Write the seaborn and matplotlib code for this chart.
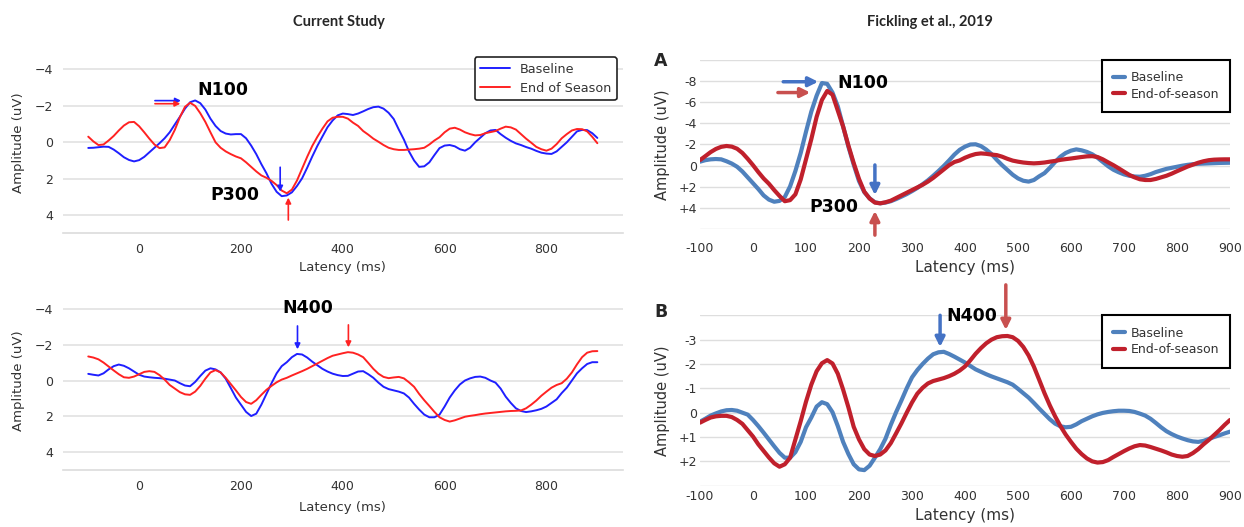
import matplotlib
matplotlib.use("Agg")
import matplotlib.pyplot as plt
import numpy as np
import pandas as pd
import seaborn as sns

# ---------------- data (every 10 ms) ----------------
latency = list(range(-100, 901, 10))

# Current Study, top (N100 / P300)
cur_a_baseline = [
    0.31, 0.30, 0.27, 0.24, 0.25, 0.40, 0.60, 0.82, 0.97, 1.05,
    0.98, 0.80, 0.55, 0.30, 0.05, -0.22, -0.55, -0.98, -1.40, -1.85,
    -2.20, -2.30, -2.15, -1.80, -1.30, -0.90, -0.62, -0.48, -0.43, -0.45,
    -0.45, -0.22, 0.18, 0.65, 1.20, 1.70, 2.28, 2.72, 2.96, 2.92,
    2.75, 2.40, 1.98, 1.40, 0.78, 0.20, -0.32, -0.83, -1.20, -1.48,
    -1.58, -1.55, -1.50, -1.58, -1.70, -1.83, -1.93, -1.96, -1.85, -1.62,
    -1.28, -0.70, -0.15, 0.50, 1.00, 1.35, 1.32, 1.10, 0.70, 0.32,
    0.18, 0.15, 0.22, 0.38, 0.46, 0.30, 0.00, -0.25, -0.50, -0.65,
    -0.68, -0.45, -0.25, -0.08, 0.06, 0.15, 0.26, 0.35, 0.47, 0.57,
    0.62, 0.64, 0.50, 0.25, 0.00, -0.30, -0.60, -0.68, -0.67, -0.50, -0.24]
cur_a_end = [
    -0.31, -0.05, 0.15, 0.12, -0.10, -0.35, -0.65, -0.92, -1.10, -1.12,
    -0.88, -0.55, -0.20, 0.12, 0.32, 0.28, -0.12, -0.68, -1.38, -1.95,
    -2.17, -2.00, -1.60, -1.12, -0.55, 0.00, 0.30, 0.50, 0.65, 0.78,
    0.88, 1.10, 1.35, 1.60, 1.82, 1.95, 2.12, 2.35, 2.65, 2.80,
    2.60, 2.10, 1.45, 0.80, 0.20, -0.30, -0.75, -1.15, -1.35, -1.40,
    -1.40, -1.30, -1.08, -0.90, -0.62, -0.42, -0.20, -0.03, 0.15, 0.30,
    0.38, 0.42, 0.42, 0.40, 0.38, 0.35, 0.30, 0.12, -0.10, -0.28,
    -0.55, -0.75, -0.80, -0.70, -0.55, -0.45, -0.38, -0.40, -0.50, -0.56,
    -0.62, -0.75, -0.86, -0.82, -0.70, -0.45, -0.20, 0.02, 0.25, 0.38,
    0.46, 0.35, 0.10, -0.22, -0.45, -0.65, -0.73, -0.72, -0.60, -0.30, 0.05]

# Current Study, bottom (N400)
cur_b_baseline = [
    -0.37, -0.32, -0.28, -0.40, -0.62, -0.80, -0.89, -0.82, -0.68, -0.50,
    -0.32, -0.22, -0.18, -0.15, -0.13, -0.10, -0.05, 0.00, 0.15, 0.28,
    0.32, 0.08, -0.25, -0.55, -0.68, -0.62, -0.45, -0.10, 0.42, 0.95,
    1.35, 1.75, 1.98, 1.85, 1.35, 0.75, 0.15, -0.40, -0.80, -1.02,
    -1.30, -1.48, -1.45, -1.28, -1.05, -0.85, -0.65, -0.50, -0.38, -0.30,
    -0.25, -0.26, -0.38, -0.50, -0.52, -0.35, -0.15, 0.12, 0.35, 0.48,
    0.55, 0.62, 0.72, 0.95, 1.30, 1.62, 1.90, 2.05, 2.05, 1.90,
    1.45, 0.95, 0.55, 0.22, 0.00, -0.12, -0.20, -0.22, -0.15, 0.00,
    0.12, 0.45, 0.90, 1.25, 1.55, 1.70, 1.76, 1.72, 1.66, 1.58,
    1.45, 1.25, 1.05, 0.70, 0.40, 0.00, -0.40, -0.68, -0.92, -1.02, -1.02]
cur_b_end = [
    -1.34, -1.28, -1.18, -1.00, -0.78, -0.56, -0.35, -0.18, -0.15, -0.22,
    -0.35, -0.48, -0.52, -0.48, -0.30, -0.05, 0.25, 0.45, 0.65, 0.77,
    0.80, 0.62, 0.30, -0.10, -0.45, -0.58, -0.45, -0.15, 0.20, 0.55,
    0.92, 1.20, 1.30, 1.10, 0.80, 0.52, 0.30, 0.10, -0.05, -0.15,
    -0.28, -0.40, -0.52, -0.65, -0.80, -0.95, -1.10, -1.25, -1.38, -1.45,
    -1.52, -1.58, -1.55, -1.45, -1.30, -0.98, -0.65, -0.38, -0.20, -0.13,
    -0.17, -0.20, -0.12, 0.10, 0.35, 0.75, 1.10, 1.42, 1.75, 2.05,
    2.20, 2.29, 2.22, 2.12, 2.02, 1.97, 1.93, 1.88, 1.84, 1.81,
    1.78, 1.75, 1.72, 1.70, 1.69, 1.67, 1.55, 1.35, 1.12, 0.85,
    0.62, 0.40, 0.25, 0.15, -0.10, -0.45, -0.90, -1.30, -1.55, -1.63, -1.64]

# Fickling et al., 2019, panel A
fick_a_baseline = [
    -0.38, -0.52, -0.60, -0.63, -0.60, -0.42, -0.20, 0.10, 0.55, 1.10,
    1.65, 2.20, 2.80, 3.20, 3.40, 3.32, 2.95, 1.95, 0.50, -1.20,
    -3.20, -5.10, -6.60, -7.80, -7.72, -6.90, -5.60, -3.70, -1.80, -0.10,
    1.45, 2.50, 3.08, 3.45, 3.55, 3.48, 3.35, 3.15, 2.92, 2.68,
    2.40, 2.10, 1.75, 1.38, 0.95, 0.50, 0.02, -0.50, -1.05, -1.50,
    -1.80, -2.00, -2.02, -1.85, -1.52, -1.10, -0.55, -0.05, 0.40, 0.85,
    1.20, 1.42, 1.50, 1.35, 1.00, 0.70, 0.20, -0.35, -0.85, -1.20,
    -1.42, -1.54, -1.45, -1.30, -1.08, -0.75, -0.35, 0.05, 0.38, 0.62,
    0.82, 0.95, 1.02, 1.04, 0.95, 0.80, 0.60, 0.45, 0.30, 0.20,
    0.10, 0.00, -0.08, -0.14, -0.18, -0.20, -0.22, -0.24, -0.26, -0.27, -0.28]
fick_a_end = [
    -0.53, -0.90, -1.28, -1.58, -1.78, -1.86, -1.80, -1.60, -1.20, -0.65,
    -0.05, 0.60, 1.20, 1.70, 2.30, 2.85, 3.35, 3.25, 2.70, 1.30,
    -0.60, -2.50, -4.60, -6.20, -7.05, -6.70, -5.20, -3.70, -1.90, -0.25,
    1.25, 2.45, 3.10, 3.48, 3.55, 3.45, 3.30, 3.05, 2.80, 2.55,
    2.30, 2.05, 1.80, 1.50, 1.15, 0.75, 0.35, -0.05, -0.35, -0.50,
    -0.75, -0.95, -1.10, -1.16, -1.12, -1.05, -1.00, -0.85, -0.65, -0.48,
    -0.38, -0.30, -0.25, -0.22, -0.25, -0.30, -0.38, -0.45, -0.55, -0.62,
    -0.68, -0.75, -0.82, -0.88, -0.90, -0.82, -0.60, -0.32, -0.05, 0.25,
    0.56, 0.87, 1.10, 1.28, 1.35, 1.35, 1.25, 1.10, 0.95, 0.75,
    0.52, 0.30, 0.08, -0.10, -0.28, -0.42, -0.52, -0.57, -0.59, -0.60, -0.60]

# Fickling et al., 2019, panel B
fick_b_baseline = [
    0.37, 0.25, 0.12, 0.03, -0.05, -0.10, -0.11, -0.08, 0.00, 0.08,
    0.30, 0.55, 0.82, 1.10, 1.38, 1.65, 1.85, 1.85, 1.62, 1.20,
    0.60, 0.20, -0.25, -0.43, -0.35, -0.02, 0.55, 1.20, 1.70, 2.12,
    2.33, 2.36, 2.18, 1.85, 1.50, 1.07, 0.50, -0.02, -0.50, -1.00,
    -1.45, -1.75, -2.00, -2.22, -2.40, -2.48, -2.50, -2.41, -2.30, -2.18,
    -2.06, -1.92, -1.78, -1.68, -1.58, -1.49, -1.41, -1.33, -1.25, -1.15,
    -0.98, -0.80, -0.62, -0.40, -0.17, 0.05, 0.27, 0.45, 0.56, 0.60,
    0.58, 0.48, 0.35, 0.25, 0.15, 0.07, 0.01, -0.03, -0.06, -0.08,
    -0.08, -0.07, -0.03, 0.04, 0.12, 0.25, 0.42, 0.60, 0.76, 0.88,
    0.98, 1.06, 1.13, 1.18, 1.20, 1.16, 1.08, 1.00, 0.93, 0.85, 0.78]
fick_b_end = [
    0.41, 0.30, 0.20, 0.15, 0.13, 0.13, 0.18, 0.30, 0.46, 0.72,
    0.98, 1.30, 1.57, 1.84, 2.08, 2.22, 2.12, 1.85, 1.10, 0.35,
    -0.45, -1.15, -1.70, -2.03, -2.16, -2.02, -1.60, -0.95, -0.22, 0.58,
    1.10, 1.50, 1.72, 1.78, 1.72, 1.55, 1.25, 0.85, 0.44, 0.00,
    -0.42, -0.78, -1.02, -1.20, -1.30, -1.36, -1.42, -1.50, -1.60, -1.73,
    -1.90, -2.15, -2.42, -2.65, -2.85, -3.00, -3.10, -3.14, -3.15, -3.10,
    -2.95, -2.70, -2.35, -1.89, -1.35, -0.80, -0.30, 0.15, 0.55, 0.90,
    1.20, 1.48, 1.70, 1.88, 2.00, 2.05, 2.03, 1.95, 1.82, 1.70,
    1.58, 1.47, 1.38, 1.33, 1.35, 1.41, 1.48, 1.55, 1.63, 1.72,
    1.78, 1.81, 1.78, 1.66, 1.50, 1.30, 1.12, 0.92, 0.72, 0.50, 0.30]

left_labels = ["Baseline", "End of Season"]
right_labels = ["Baseline", "End-of-season"]
left_xticks = [0, 200, 400, 600, 800]
left_yticks = [-4, -2, 0, 2, 4]
right_xticks = [-100, 0, 100, 200, 300, 400, 500, 600, 700, 800, 900]
right_xticklabels = ["-100", "0", "100", "200", "300", "400", "500", "600", "700", "800", "900"]
rt_yticks = [-10, -8, -6, -4, -2, 0, 2, 4, 6]
rt_yticklabels = ["", "-8", "-6", "-4", "-2", "0", "+2", "+4", ""]
rb_yticks = [-4, -3, -2, -1, 0, 1, 2, 3]
rb_yticklabels = ["", "-3", "-2", "-1", "0", "+1", "+2", ""]

# ---------------- style ----------------
sns.set_theme(style="whitegrid")
plt.rcParams["font.family"] = ["DejaVu Sans"]

L_BLUE, L_RED = "#1f1fff", "#ff2222"
R_BLUE, R_RED = "#4f81bd", "#c0202c"
R_ARROW_BLUE, R_ARROW_RED = "#4472c4", "#c8504f"

W, H = 1244, 527
fig = plt.figure(figsize=(W / 100, H / 100), dpi=100)
fig.patch.set_facecolor("white")


def add_ax(l, t, r, b):
    return fig.add_axes([l / W, 1 - b / H, (r - l) / W, (b - t) / H])


ax_lt = add_ax(62.8, 51.3, 622.8, 233.3)
ax_lb = add_ax(62.8, 290.8, 622.8, 470.2)
ax_rt = add_ax(700, 59.7, 1230, 229.3)
ax_rb = add_ax(700, 315.3, 1230, 485.7)


def draw(ax, base, end, labels, colors, lw):
    df = pd.DataFrame({"Latency": latency, labels[0]: base, labels[1]: end})
    sns.lineplot(data=df, x="Latency", y=labels[0], color=colors[0], lw=lw,
                 ax=ax, label=labels[0])
    sns.lineplot(data=df, x="Latency", y=labels[1], color=colors[1], lw=lw,
                 ax=ax, label=labels[1])


# ---------- left panels ----------
for ax, base, end, xlab_y in [(ax_lt, cur_a_baseline, cur_a_end, -0.152),
                              (ax_lb, cur_b_baseline, cur_b_end, -0.17)]:
    draw(ax, base, end, left_labels, [L_BLUE, L_RED], 1.4)
    ax.set_xlim(-150, 950)
    ax.set_ylim(5, -5)
    ax.set_xticks(left_xticks)
    ax.set_yticks(left_yticks)
    ax.grid(axis="x", visible=False)
    ax.grid(axis="y", color="#e2e2e2", lw=1.2)
    for s in ["top", "right", "left"]:
        ax.spines[s].set_visible(False)
    ax.spines["bottom"].set_color("#dcdcdc")
    ax.spines["bottom"].set_linewidth(1.2)
    ax.tick_params(axis="both", length=0, labelsize=9, colors="#333333")
    ax.tick_params(axis="x", pad=7)
    ax.tick_params(axis="y", pad=7)
    ax.set_xlabel("Latency (ms)", fontsize=9.5, color="#333333")
    ax.set_ylabel("Amplitude (uV)", fontsize=9.5, color="#333333")
    ax.xaxis.set_label_coords(0.5, xlab_y)
    ax.yaxis.set_label_coords(-0.068, 0.5)

leg = ax_lt.legend(loc="upper right", fontsize=9.2, frameon=True, fancybox=True,
                   framealpha=1, edgecolor="#222222", handlelength=2.3,
                   handletextpad=0.8, borderpad=0.45, labelspacing=0.45,
                   borderaxespad=0.45)
leg.get_frame().set_linewidth(1.2)
for t in leg.get_texts():
    t.set_color("#333333")
ax_lb.get_legend().remove()

# ---------- right panels ----------
for ax, base, end, ylim, yt, ytl, tpad, xlab_y in [
        (ax_rt, fick_a_baseline, fick_a_end, (6, -10), rt_yticks, rt_yticklabels, 9, -0.18),
        (ax_rb, fick_b_baseline, fick_b_end, (3, -4), rb_yticks, rb_yticklabels, 3, -0.13)]:
    draw(ax, base, end, right_labels, [R_BLUE, R_RED], 3.0)
    ax.set_xlim(-100, 900)
    ax.set_ylim(*ylim)
    ax.set_xticks(right_xticks)
    ax.set_xticklabels(right_xticklabels)
    ax.set_yticks(yt)
    ax.set_yticklabels(ytl)
    ax.grid(axis="x", visible=False)
    ax.grid(axis="y", color="#dedede", lw=1.0)
    for s in ["top", "right", "left", "bottom"]:
        ax.spines[s].set_visible(False)
    ax.tick_params(axis="both", length=0, labelsize=9, colors="#333333")
    ax.tick_params(axis="x", pad=tpad)
    ax.tick_params(axis="y", pad=2)
    ax.set_xlabel("Latency (ms)", fontsize=11, color="#333333")
    ax.set_ylabel("Amplitude (uV)", fontsize=10.5, color="#333333")
    ax.xaxis.set_label_coords(0.5, xlab_y)
    ax.yaxis.set_label_coords(-0.056, 0.5)
    lg = ax.legend(loc="upper right", fontsize=9, frameon=True, fancybox=False,
                   framealpha=1, edgecolor="black", handlelength=0.95,
                   handletextpad=0.45, borderpad=0.9, labelspacing=0.3,
                   borderaxespad=0.0)
    lg.get_frame().set_linewidth(1.5)
    for t in lg.get_texts():
        t.set_color("#333333")

# ---------- annotations ----------
def arrow(ax, tail, head, color, lw, ms):
    ax.annotate("", xy=head, xytext=tail, annotation_clip=False,
                arrowprops=dict(arrowstyle="-|>", color=color, lw=lw,
                                mutation_scale=ms, shrinkA=0, shrinkB=0))


def label(ax, x, y, s):
    ax.text(x, y, s, ha="center", va="center", fontsize=12.5,
            fontweight="bold", color="black", clip_on=False)


label(ax_lt, 164, -2.9, "N100")
label(ax_lt, 188, 2.9, "P300")
arrow(ax_lt, (31, -2.29), (82, -2.29), L_BLUE, 1.2, 8)
arrow(ax_lt, (31, -2.12), (81, -2.12), L_RED, 1.2, 8)
arrow(ax_lt, (277, 1.37), (277, 2.71), L_BLUE, 1.2, 8)
arrow(ax_lt, (293, 4.27), (293, 3.04), L_RED, 1.2, 8)

label(ax_lb, 332, -4.03, "N400")
arrow(ax_lb, (311, -3.04), (311, -1.74), L_BLUE, 1.2, 8)
arrow(ax_lb, (411, -3.1), (411, -1.85), L_RED, 1.2, 8)

label(ax_rt, 207, -7.8, "N100")
label(ax_rt, 152, 3.87, "P300")
arrow(ax_rt, (57, -7.92), (123, -7.92), R_ARROW_BLUE, 2.5, 14)
arrow(ax_rt, (47, -6.9), (108, -6.9), R_ARROW_RED, 2.5, 14)
arrow(ax_rt, (230, -0.07), (230, 2.77), R_ARROW_BLUE, 2.5, 14)
arrow(ax_rt, (230, 6.55), (230, 4.27), R_ARROW_RED, 2.5, 14)

label(ax_rb, 413, -3.96, "N400")
arrow(ax_rb, (353, -4.0), (353, -2.7), R_ARROW_BLUE, 2.5, 14)
arrow(ax_rb, (477, -5.25), (477, -3.4), R_ARROW_RED, 2.5, 14)

# ---------- titles and panel letters ----------
fig.text(339 / W, 1 - 22 / H, "Current Study", ha="center", va="center",
         fontsize=10.5, fontweight="bold", family=["Lato", "DejaVu Sans"])
fig.text(930 / W, 1 - 22 / H, "Fickling et al., 2019", ha="center", va="center",
         fontsize=10.5, fontweight="bold", family=["Lato", "DejaVu Sans"])
fig.text(661 / W, 1 - 61 / H, "A", ha="center", va="center", fontsize=12.5,
         fontweight="bold")
fig.text(661 / W, 1 - 312 / H, "B", ha="center", va="center", fontsize=12.5,
         fontweight="bold")

fig.savefig("out.png", dpi=100, facecolor="white")
